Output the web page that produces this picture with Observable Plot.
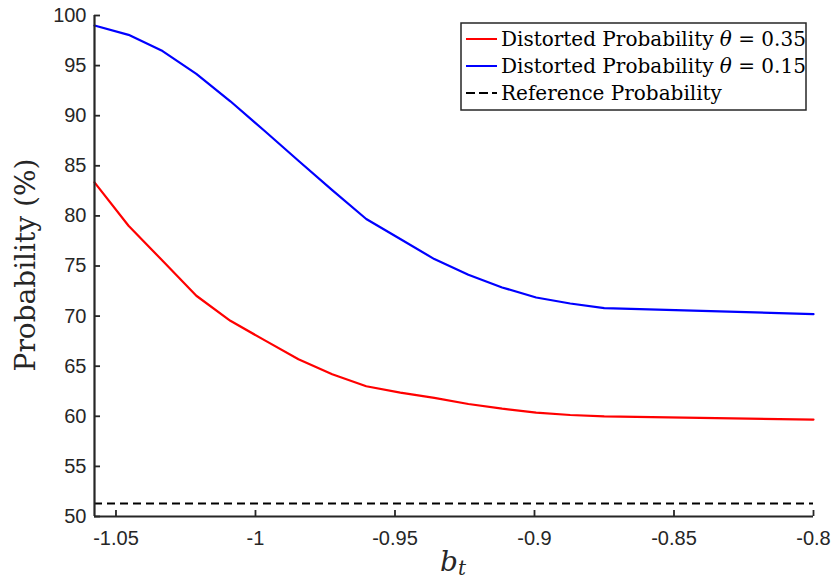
<!DOCTYPE html>
<html><head><meta charset="utf-8">
<script src="https://cdn.jsdelivr.net/npm/d3@7"></script>
<script src="https://cdn.jsdelivr.net/npm/@observablehq/plot@0.6"></script>
<style>body{margin:0;background:#fff;} #chart svg{display:block;}</style>
</head><body><div id="chart"></div>
<script>
const bt = [-1.0577, -1.0455, -1.0333, -1.0212, -1.0090, -0.9968, -0.9846, -0.9725, -0.9603, -0.9481, -0.9359, -0.9237, -0.9116, -0.8994, -0.8872, -0.8750, -0.8000];
const theta035 = [83.35, 79.02, 75.52, 72.03, 69.53, 67.6, 65.7, 64.2, 63.0, 62.37, 61.84, 61.23, 60.76, 60.37, 60.13, 60.0, 59.67];
const theta015 = [99.0, 98.07, 96.45, 94.18, 91.44, 88.5, 85.5, 82.58, 79.69, 77.69, 75.69, 74.13, 72.86, 71.86, 71.26, 70.80, 70.20];
const referenceProb = 51.3;
const xTicks = [-1.05, -1, -0.95, -0.9, -0.85, -0.8];
const yTicks = [50, 55, 60, 65, 70, 75, 80, 85, 90, 95, 100];
const legendLabels = ["Distorted Probability ", "Distorted Probability ", "Reference Probability"];
const legendTheta = ["0.35", "0.15", null];
const colors = ["#ff0000", "#0000ff", "#000000"];

const red = bt.map((x, i) => ({x, y: theta035[i]}));
const blue = bt.map((x, i) => ({x, y: theta015[i]}));
const axisColor = "#262626";
const W = 833, H = 582, mL = 94, mR = 20, mT = 15, mB = 66;
const tickLen = 6;

const plot = Plot.plot({
  width: W, height: H,
  marginLeft: mL, marginRight: mR, marginTop: mT, marginBottom: mB,
  x: {domain: [bt[0], bt[bt.length - 1]]},
  y: {domain: [50, 100]},
  style: {fontFamily: "'Liberation Sans', Arial, sans-serif", fontSize: "20px", color: axisColor, background: "white", overflow: "visible"},
  marks: [
    Plot.ruleY([referenceProb], {stroke: colors[2], strokeWidth: 2, strokeDasharray: "8,5"}),
    Plot.line(red, {x: "x", y: "y", stroke: colors[0], strokeWidth: 2.2}),
    Plot.line(blue, {x: "x", y: "y", stroke: colors[1], strokeWidth: 2.2}),
    Plot.ruleX([bt[0]], {stroke: axisColor, strokeWidth: 2.2}),
    Plot.ruleY([50], {stroke: axisColor, strokeWidth: 2.2}),
    Plot.tickY(yTicks, {y: d => d, stroke: axisColor, strokeWidth: 1.8, insetRight: W - mL - mR - tickLen}),
    Plot.tickX(xTicks, {x: d => d, stroke: axisColor, strokeWidth: 1.8, insetTop: H - mT - mB - tickLen}),
    Plot.axisY(yTicks, {tickSize: 0, tickPadding: 8, label: null, fontSize: 20, fill: axisColor}),
    Plot.axisX(xTicks, {tickSize: 0, tickPadding: 14, label: null, fontSize: 20, fill: axisColor, tickFormat: d => String(d)})
  ]
});
document.getElementById("chart").appendChild(plot);

const svg = d3.select(plot);
const serif = "'DejaVu Serif', 'Liberation Serif', serif";
// y label
svg.append("text")
  .attr("transform", "translate(35,265) rotate(-90)")
  .attr("text-anchor", "middle")
  .attr("font-family", serif).attr("font-size", 28).attr("fill", axisColor)
  .text("Probability (%)");
// x label
const xl = svg.append("text")
  .attr("x", 453).attr("y", 571)
  .attr("text-anchor", "middle")
  .attr("font-family", serif).attr("font-size", 28).attr("fill", axisColor);
xl.append("tspan").attr("font-style", "italic").text("b");
xl.append("tspan").attr("font-style", "italic").attr("font-size", 20).attr("dy", 4).text("t");

// legend
const lg = svg.append("g").attr("text-anchor", "start");
lg.append("rect").attr("x", 461).attr("y", 23).attr("width", 345).attr("height", 87)
  .attr("fill", "white").attr("stroke", axisColor).attr("stroke-width", 1.5);
legendLabels.forEach((lab, i) => {
  const cy = 39 + i * 27;
  lg.append("line").attr("x1", 466).attr("x2", 497).attr("y1", cy).attr("y2", cy)
    .attr("stroke", colors[i]).attr("stroke-width", 2)
    .attr("stroke-dasharray", i === 2 ? "9,4" : null);
  const t = lg.append("text").attr("x", 501).attr("y", cy + 7)
    .attr("text-anchor", "start")
    .attr("font-family", serif).attr("font-size", 20).attr("fill", "#000");
  t.append("tspan").text(lab);
  if (legendTheta[i]) {
    t.append("tspan").attr("font-style", "italic").text("θ");
    t.append("tspan").text(" = " + legendTheta[i]);
  }
});
</script>
</body></html>
